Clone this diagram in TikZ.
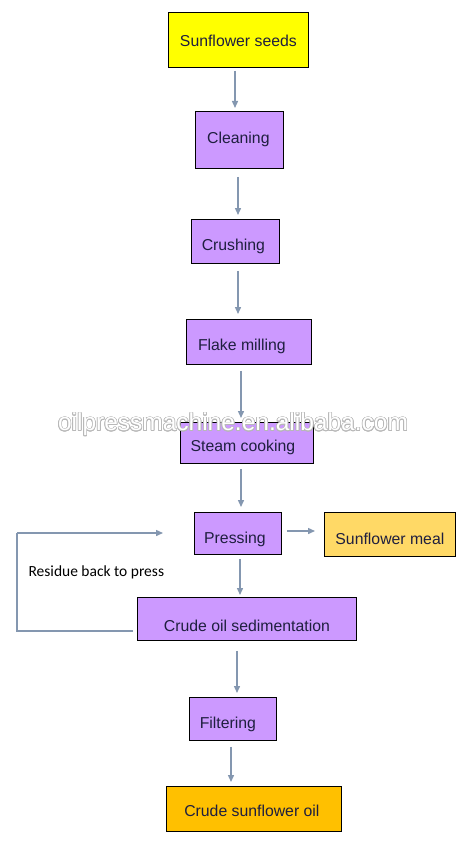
\documentclass[tikz,border=0pt]{standalone}
\usepackage{fontspec}
\setmainfont{Liberation Sans}
\newfontfamily\calib{Carlito}
\usepackage[copies]{contour}
\contourlength{0.7pt}
\contournumber{16}
\usetikzlibrary{arrows.meta,calc}
\definecolor{lav}{HTML}{CC99FF}
\definecolor{yel}{HTML}{FFFF00}
\definecolor{meal}{HTML}{FFD966}
\definecolor{oilc}{HTML}{FFC000}
\definecolor{arr}{HTML}{8497B0}
\definecolor{txt}{HTML}{1F1F3F}
\definecolor{wmline}{HTML}{B8B8B8}
\tikzset{
  box/.style={draw=black, line width=0.8pt, inner sep=0pt},
  lbl/.style={text=txt, font=\fontsize{15.8}{18}\selectfont},
  flow/.style={draw=arr, line width=1.4pt, -{Triangle[length=7pt,width=6pt]}},
}
\newcommand{\bx}[6]{% name, x1, y1, x2, y2, fill
  \node[box, fill=#6, minimum width={#4-#2}, minimum height={#5-#3}, anchor=north west] (#1) at (#2,#3) {};}
\begin{document}
\begin{tikzpicture}[x=1pt,y=-1pt]
\useasboundingbox (0,0) rectangle (466,864);
\fill[white] (0,0) rectangle (466,864);
\bx{seeds}{168}{12}{308}{67}{yel}
\node[lbl] (tseeds) at ($(seeds.center)+(0,1)$) {Sunflower seeds};
\bx{clean}{195}{111}{283}{168}{lav}
\node[lbl] (tclean) at ($(clean.center)+(-1,0)$) {Cleaning};
\bx{crush}{191}{219}{279}{263}{lav}
\node[lbl] (tcrush) at ($(crush.center)+(-2,5)$) {Crushing};
\bx{flake}{186}{319}{311}{364}{lav}
\node[lbl] (tflake) at ($(flake.center)+(-7,5)$) {Flake milling};
\bx{steam}{180}{422}{313}{463}{lav}
\node[lbl] (tsteam) at ($(steam.center)+(-4,5)$) {Steam cooking};
\bx{press}{194}{512}{281}{554}{lav}
\node[lbl] (tpress) at ($(press.center)+(-3,6)$) {Pressing};
\bx{smeal}{324}{512}{455}{556}{meal}
\node[lbl] (tmeal) at ($(smeal.center)+(0,4)$) {Sunflower meal};
\bx{sedi}{137}{597}{356}{640}{lav}
\node[lbl] (tsedi) at ($(sedi.center)+(0,7)$) {Crude oil sedimentation};
\bx{filt}{189}{697}{276}{740}{lav}
\node[lbl] (tfilt) at ($(filt.center)+(-5,6)$) {Filtering};
\bx{oil}{166}{786}{341}{831}{oilc}
\node[lbl] (toil) at ($(oil.center)+(-2,2)$) {Crude sunflower oil};
% arrow columns
\coordinate (x1) at (235,0);
\coordinate (x2) at (238,0);
\coordinate (x3) at (241,0);
\coordinate (x4) at (240,0);
\coordinate (x5) at (237,0);
\coordinate (x6) at (231,0);
\coordinate (y6) at (0,531);
\draw[flow] ($(seeds.south -| x1)+(0,3)$) -- ($(clean.north -| x1)+(0,-3)$);
\draw[flow] ($(clean.south -| x2)+(0,8)$) -- ($(crush.north -| x2)+(0,-4)$);
\draw[flow] ($(crush.south -| x2)+(0,7)$) -- ($(flake.north -| x2)+(0,-5)$);
\draw[flow] ($(flake.south -| x3)+(0,6)$) -- ($(steam.north -| x3)+(0,-4)$);
\draw[flow] ($(steam.south -| x3)+(0,5)$) -- ($(press.north -| x3)+(0,-5)$);
\draw[flow] ($(press.east |- y6)+(5,0)$) -- ($(smeal.west |- y6)+(-9,0)$);
\draw[flow] ($(press.south -| x4)+(0,4)$) -- ($(sedi.north -| x4)+(0,-2)$);
\draw[flow] ($(sedi.south -| x5)+(0,10)$) -- ($(filt.north -| x5)+(0,-4)$);
\draw[flow] ($(filt.south -| x6)+(0,6)$) -- ($(oil.north -| x6)+(0,-4)$);
% feedback loop
\coordinate (lb) at (17,631);
\coordinate (lt) at (17,533);
\coordinate (le) at (163,533);
\draw[draw=arr, line width=1.4pt] ($(sedi.west |- lb)+(-4,0)$) -- (lb) -- (lt);
\draw[flow] (lt) -- (le);
\node[anchor=west, font=\calib\fontsize{15.5}{18}\selectfont, text=black] (resid) at (25,572) {Residue back to press};
% watermark
\node[font=\fontsize{24.5}{28}\selectfont] (wm) at (233,425) {\contour{wmline}{\textcolor{white}{oilpressmachine.en.alibaba.com}}};
\end{tikzpicture}
\end{document}
